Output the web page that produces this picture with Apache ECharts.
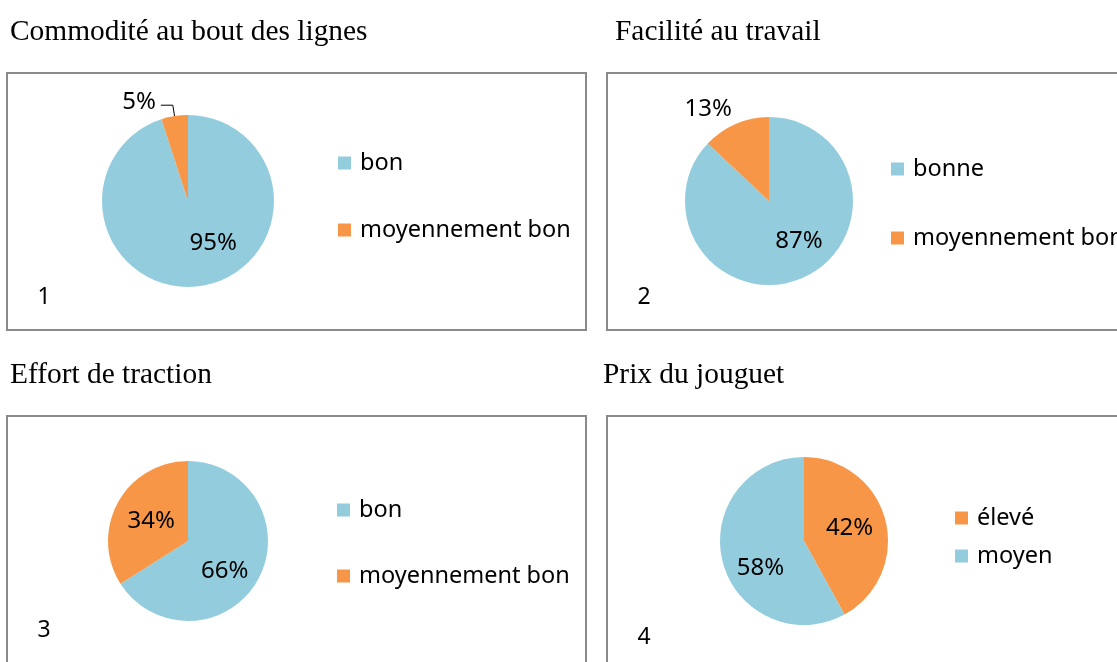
<!DOCTYPE html>
<html>
<head>
<meta charset="utf-8">
<script src="https://cdn.jsdelivr.net/npm/echarts@6/dist/echarts.min.js"></script>
<style>
html,body{margin:0;padding:0;background:#fff;}
#main{width:1117px;height:662px;}
</style>
</head>
<body>
<div id="main"></div>
<script>
// ---- data ----
const titles = ['Commodité au bout des lignes', 'Facilité au travail', 'Effort de traction', 'Prix du jouguet'];
const panelNumbers = ['1', '2', '3', '4'];

const cat1 = ['bon', 'moyennement bon'];
const val1 = [95, 5];
const cat2 = ['bonne', 'moyennement bon'];
const val2 = [87, 13];
const cat3 = ['bon', 'moyennement bon'];
const val3 = [66, 34];
const cat4 = ['élevé', 'moyen'];
const val4 = [42, 58];

// ---- styles ----
const BLUE = '#93CDDD';
const ORANGE = '#F79646';
const colors1 = [BLUE, ORANGE];
const colors2 = [BLUE, ORANGE];
const colors3 = [BLUE, ORANGE];
const colors4 = [ORANGE, BLUE];
const SANS = '"Noto Sans", "Open Sans", sans-serif';
const SERIF = '"Liberation Serif", "DejaVu Serif", serif';

const panels = [
  {cats: cat1, vals: val1, colors: colors1, center: [188, 201], r: 86, outside: [false, true],
   shift: [[18, -3], [0, -3]],
   box: [7, 73, 579, 257], title: [10, 18], num: [44, 297],
   legend: {left: 338, top: 151, gap: 43}},
  {cats: cat2, vals: val2, colors: colors2, center: [769, 201], r: 84, outside: [false, false],
   shift: [[12, -1], [-43, -51]],
   box: [607, 73, 600, 257], title: [615, 18], num: [644, 297],
   legend: {left: 891, top: 157, gap: 45}},
  {cats: cat3, vals: val3, colors: colors3, center: [188, 541], r: 80, outside: [false, false],
   shift: [[-1, 9], [1, 1]],
   box: [7, 416, 579, 300], title: [10, 361], num: [44, 630],
   legend: {left: 337, top: 498, gap: 42}},
  {cats: cat4, vals: val4, colors: colors4, center: [804, 541], r: 84, outside: [false, false],
   shift: [[2, -2], [0, 16]],
   box: [607, 416, 600, 300], title: [603, 361], num: [644, 637],
   legend: {left: 955, top: 506, gap: 14}}
];

const chart = echarts.init(document.getElementById('main'), null, {renderer: 'canvas'});

const graphics = [];
const legends = [];
const series = [];

panels.forEach((p, i) => {
  graphics.push({
    type: 'rect', silent: true, z: 0,
    shape: {x: p.box[0], y: p.box[1], width: p.box[2], height: p.box[3]},
    style: {fill: 'none', stroke: '#8A8A8A', lineWidth: 2}
  });
  graphics.push({
    type: 'text', silent: true,
    x: p.title[0], y: p.title[1],
    style: {text: titles[i], font: '29.4px ' + SERIF, fill: '#000'}
  });
  graphics.push({
    type: 'text', silent: true,
    x: p.num[0], y: p.num[1],
    style: {text: panelNumbers[i], font: '23px ' + SANS, fill: '#000', align: 'center', verticalAlign: 'middle'}
  });
  legends.push({
    orient: 'vertical', left: p.legend.left, top: p.legend.top, padding: 0,
    itemGap: p.legend.gap, itemWidth: 13, itemHeight: 13, icon: 'rect',
    selectedMode: false,
    data: p.cats.slice(),
    textStyle: {fontFamily: SANS, fontSize: 23.5, color: '#000', lineHeight: 23, padding: [0, 0, 0, 4]}
  });
  series.push({
    type: 'pie',
    center: p.center,
    radius: p.r,
    startAngle: 90,
    clockwise: true,
    animation: false,
    silent: true,
    legendHoverLink: false,
    data: p.cats.map((c, k) => ({
      name: c, value: p.vals[k],
      itemStyle: {color: p.colors[k]},
      label: {position: p.outside[k] ? 'outside' : 'inside'},
      labelLine: {show: p.outside[k], length: 11, length2: 12, lineStyle: {color: '#000', width: 1}}
    })),
    label: {
      show: true, formatter: '{c}%',
      fontFamily: SANS, fontSize: 24, color: '#000'
    },
    labelLine: {show: false},
    labelLayout: (params) => {
      const s = p.shift[params.dataIndex];
      return {dx: s[0], dy: s[1]};
    },
    itemStyle: {borderWidth: 0}
  });
});

chart.setOption({
  backgroundColor: '#fff',
  animation: false,
  legend: legends,
  graphic: graphics,
  series: series
});
</script>
</body>
</html>
